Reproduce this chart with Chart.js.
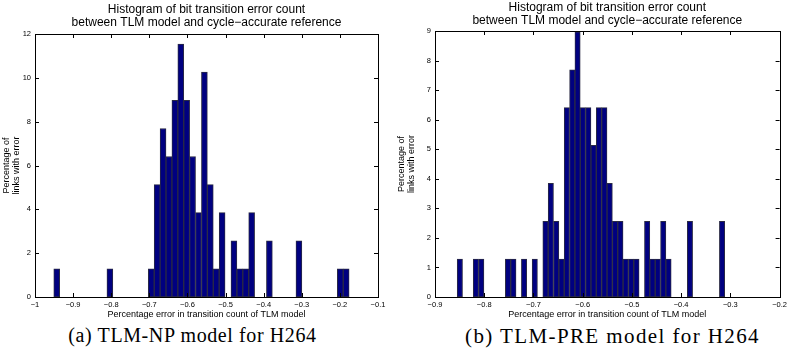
<!DOCTYPE html>
<html>
<head>
<meta charset="utf-8">
<script src="https://cdn.jsdelivr.net/npm/chart.js@4/dist/chart.umd.min.js"></script>
<style>
  body { margin: 0; background: #fff; width: 790px; height: 348px; overflow: hidden; }
  .box { position: absolute; top: 0; width: 395px; height: 322px; }
  .cap { position: absolute; top: 324px; font-family: "Liberation Serif", serif; color: #000; white-space: nowrap; text-align: center; }
</style>
</head>
<body>
<div class="box" style="left:0"><canvas id="chartA"></canvas></div>
<div class="box" style="left:395px"><canvas id="chartB"></canvas></div>
<div class="cap" id="capA" style="left:0;width:385px;font-size:20px;letter-spacing:0.6px">(a) TLM-NP model for H264</div>
<div class="cap" id="capB" style="left:395px;width:435px;font-size:21px;letter-spacing:1.4px">(b) TLM-PRE model for H264</div>
<script>
// histogram bins (center of each non-empty bin) and % of links in it
const npBins = [-0.943, -0.8035, -0.695, -0.6795, -0.664, -0.6485, -0.633, -0.6175, -0.602, -0.5865,
  -0.571, -0.5555, -0.54, -0.5245, -0.509, -0.478, -0.4625, -0.447, -0.4315, -0.385, -0.3075, -0.199, -0.1835];
const npPct = [1.28, 1.28, 1.28, 5.13, 7.69, 6.41, 8.97, 11.54, 8.97, 6.41,
  3.85, 10.26, 5.13, 1.28, 3.85, 2.56, 1.28, 1.28, 3.85, 2.56, 2.56, 1.28, 1.28];

const preBins = [-0.8495, -0.8169, -0.806, -0.7517, -0.7408, -0.7191, -0.6973, -0.6756, -0.6647, -0.6538,
  -0.643, -0.6321, -0.6212, -0.6104, -0.5995, -0.5886, -0.5778, -0.5669, -0.556, -0.5451,
  -0.5343, -0.5234, -0.5125, -0.5017, -0.4908, -0.4691, -0.4582, -0.4473, -0.4364, -0.4256, -0.3821, -0.3169];
const prePct = [1.28, 1.28, 1.28, 1.28, 1.28, 1.28, 1.28, 2.56, 3.85, 2.56,
  1.28, 6.41, 7.69, 8.97, 6.41, 6.41, 5.13, 6.41, 6.41, 3.85,
  2.56, 2.56, 1.28, 1.28, 1.28, 2.56, 1.28, 1.28, 2.56, 1.28, 2.56, 2.56];

const chartTitle = ["Histogram of bit transition error count", "between TLM model and cycle\u2212accurate reference"];
const xTitle = "Percentage error in transition count of TLM model";
const yTitle = ["Percentage of", "links with error"];

const npX = { min: -1, max: -0.1, step: 0.1 };
const npY = { min: 0, max: 12, step: 2 };
const preX = { min: -0.9, max: -0.2, step: 0.1 };
const preY = { min: 0, max: 9, step: 1 };

function fmt(v) {
  const r = Math.round(v * 10) / 10;
  return r < 0 ? "\u2212" + String(-r) : String(r);
}

// matlab style box with inward ticks + two line title over the axes
const frame = {
  id: "frame",
  afterDraw(chart, args, opts) {
    const { ctx, chartArea: a } = chart;
    const xs = chart.scales.x, ys = chart.scales.y;
    const len = 4;
    ctx.save();
    ctx.strokeStyle = "#000";
    ctx.lineWidth = 1;
    ctx.beginPath();
    xs.ticks.forEach(t => {
      const px = Math.round(xs.getPixelForValue(t.value)) + 0.5;
      ctx.moveTo(px, a.bottom); ctx.lineTo(px, a.bottom - len);
      ctx.moveTo(px, a.top); ctx.lineTo(px, a.top + len);
    });
    ys.ticks.forEach(t => {
      const py = Math.round(ys.getPixelForValue(t.value)) + 0.5;
      ctx.moveTo(a.left, py); ctx.lineTo(a.left + len, py);
      ctx.moveTo(a.right, py); ctx.lineTo(a.right - len, py);
    });
    ctx.stroke();
    ctx.strokeRect(Math.round(a.left) + 0.5, Math.round(a.top) + 0.5,
      Math.round(a.right - a.left), Math.round(a.bottom - a.top));
    ctx.fillStyle = "#000";
    ctx.font = "12px 'Liberation Sans', Arial, sans-serif";
    ctx.textAlign = "center";
    ctx.textBaseline = "middle";
    const cx = (a.left + a.right) / 2;
    ctx.fillText(opts.lines[0], cx, a.top - opts.gap - 13);
    ctx.fillText(opts.lines[1], cx, a.top - opts.gap);
    ctx.restore();
  }
};

function makeChart(id, bins, pct, xr, yr, pad, yw, gap) {
  return new Chart(document.getElementById(id), {
    type: "bar",
    data: {
      datasets: [{
        data: bins.map((b, i) => ({ x: b, y: pct[i] })),
        backgroundColor: "#000080",
        borderColor: "#2a2a44",
        borderWidth: 1,
        borderSkipped: false,
        categoryPercentage: 1,
        barPercentage: 1
      }]
    },
    options: {
      responsive: true,
      maintainAspectRatio: false,
      animation: false,
      layout: { padding: pad },
      plugins: {
        legend: { display: false },
        tooltip: { enabled: false },
        frame: { lines: chartTitle, gap: gap }
      },
      scales: {
        x: {
          type: "linear",
          offset: false,
          min: xr.min, max: xr.max,
          grid: { display: false, drawTicks: false },
          border: { display: false },
          afterFit: s => { s.height = 25; },
          ticks: {
            stepSize: xr.step, color: "#000", padding: 3,
            font: { family: "'Liberation Sans', Arial, sans-serif", size: 7.5 },
            maxRotation: 0, autoSkip: false,
            callback: v => fmt(v)
          },
          title: {
            display: true, text: xTitle, color: "#000",
            font: { family: "'Liberation Sans', Arial, sans-serif", size: 9 },
            padding: { top: 0, bottom: 2 }
          }
        },
        y: {
          min: yr.min, max: yr.max,
          grid: { display: false, drawTicks: false },
          border: { display: false },
          afterFit: s => { s.width = yw; },
          ticks: {
            stepSize: yr.step, color: "#000", padding: 4,
            font: { family: "'Liberation Sans', Arial, sans-serif", size: 7.5 }
          },
          title: {
            display: true, text: yTitle, color: "#000",
            font: { family: "'Liberation Sans', Arial, sans-serif", size: 9, lineHeight: 1.05 },
            padding: { top: 2, bottom: 0 }
          }
        }
      }
    },
    plugins: [frame]
  });
}

makeChart("chartA", npBins, npPct, npX, npY, { top: 34, right: 17, left: 0, bottom: 0 }, 35, 11);
makeChart("chartB", preBins, prePct, preX, preY, { top: 31, right: 8, left: 0, bottom: 0 }, 40, 10);
</script>
</body>
</html>
